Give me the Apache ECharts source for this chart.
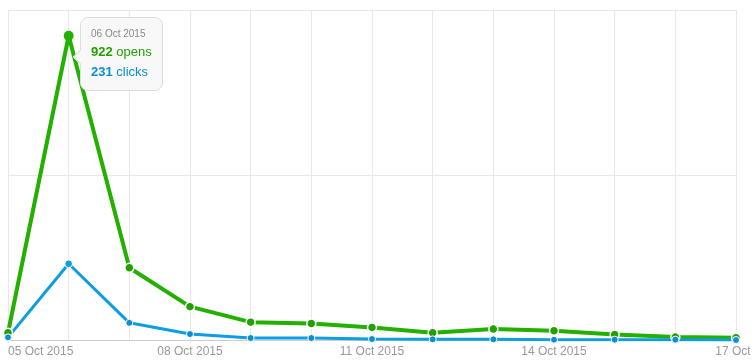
<!DOCTYPE html>
<html>
<head>
<meta charset="utf-8">
<script src="https://cdn.jsdelivr.net/npm/echarts@6/dist/echarts.min.js"></script>
<style>
html,body{margin:0;padding:0;background:#fff;}
#c{width:753px;height:364px;}
</style>
</head>
<body>
<div id="c"></div>
<script>
var categories = ['05 Oct 2015','06 Oct 2015','07 Oct 2015','08 Oct 2015','09 Oct 2015','10 Oct 2015','11 Oct 2015','12 Oct 2015','13 Oct 2015','14 Oct 2015','15 Oct 2015','16 Oct 2015','17 Oct 2015'];
var opens  = [22, 922, 219, 101, 54, 50, 38, 22, 33, 28, 17, 9, 7];
var clicks = [8, 231, 52, 18, 6, 6, 3, 2, 2, 1, 1, 1, 0];
var yTicks = [0, 500, 1000];

var GREEN = '#21a000', BLUE = '#0b8fce';
var FONT = '"Helvetica Neue", Helvetica, Arial, "Liberation Sans", sans-serif';
var chart = echarts.init(document.getElementById('c'));
var N = categories.length;
chart.setOption({
  animation: false,
  textStyle: {fontFamily: FONT},
  grid: {left: 8, right: 17, top: 10, bottom: 24, containLabel: false, outerBoundsMode: 'none'},
  tooltip: {
    trigger: 'axis',
    triggerOn: 'none',
    alwaysShowContent: true,
    axisPointer: {type: 'none'},
    backgroundColor: '#f8f8f8',
    borderColor: '#dcdcdc',
    borderWidth: 1,
    borderRadius: 8,
    padding: [8, 10, 8, 10],
    extraCssText: 'box-shadow:none;overflow:visible;',
    position: function (pt) { return [pt[0] + 11, 17]; },
    formatter: function (params) {
      var o = params[0], c = params[1];
      return '<div style="position:relative;font-family:' + FONT.replace(/"/g, "'") + ';">' +
        '<div style="position:absolute;left:-16px;top:26px;width:9px;height:9px;background:#f8f8f8;border-left:1px solid #dcdcdc;border-bottom:1px solid #dcdcdc;transform:rotate(45deg);"></div>' +
        '<div style="font-size:10px;color:#888;line-height:16px;">' + o.name + '</div>' +
        '<div style="font-size:13px;color:' + GREEN + ';line-height:20px;"><b>' + o.value + '</b> opens</div>' +
        '<div style="font-size:13px;color:' + BLUE + ';line-height:20px;"><b>' + c.value + '</b> clicks</div>' +
        '</div>';
    }
  },
  xAxis: {
    type: 'category',
    data: categories,
    boundaryGap: false,
    axisLine: {lineStyle: {color: '#cccccc', width: 1}},
    axisTick: {show: true, length: 3, lineStyle: {color: '#e0e0e0'}, alignWithLabel: true},
    axisLabel: {
      interval: 2,
      color: '#999999',
      fontSize: 12,
      fontFamily: FONT,
      margin: 6,
      hideOverlap: false,
      alignMinLabel: 'left',
      alignMaxLabel: 'center',
      formatter: function (v, i) { return i === N - 1 ? '{last|' + v + '}' : v; },
      rich: {last: {padding: [0, 0, 0, 24], color: '#999999', fontSize: 12, fontFamily: FONT}}
    },
    splitLine: {show: true, interval: 0, lineStyle: {color: '#e8e8e8', width: 1}}
  },
  yAxis: {
    type: 'value',
    min: yTicks[0],
    max: yTicks[yTicks.length - 1],
    interval: yTicks[1] - yTicks[0],
    axisLine: {show: false},
    axisTick: {show: false},
    axisLabel: {show: false},
    splitLine: {lineStyle: {color: '#e8e8e8', width: 1}}
  },
  series: [
    {
      name: 'opens', type: 'line', data: opens,
      symbol: 'circle', symbolSize: 9, showAllSymbol: true,
      lineStyle: {color: GREEN, width: 4},
      itemStyle: {color: GREEN, borderColor: '#ffffff', borderWidth: 1.5},
      emphasis: {scale: 1.1, itemStyle: {borderWidth: 0}}
    },
    {
      name: 'clicks', type: 'line', data: clicks,
      symbol: 'circle', symbolSize: 7, showAllSymbol: true,
      lineStyle: {color: BLUE, width: 3},
      itemStyle: {color: BLUE, borderColor: '#ffffff', borderWidth: 1},
      emphasis: {scale: 1.1}
    }
  ]
});
chart.dispatchAction({type: 'showTip', seriesIndex: 0, dataIndex: 1});
</script>
</body>
</html>
